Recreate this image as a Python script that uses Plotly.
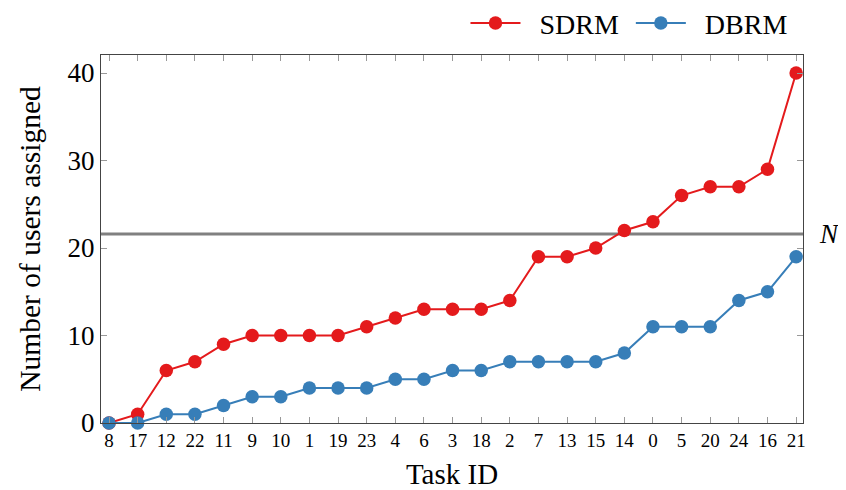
import plotly.graph_objects as go

task_ids = ["8", "17", "12", "22", "11", "9", "10", "1", "19", "23", "4", "6", "3",
            "18", "2", "7", "13", "15", "14", "0", "5", "20", "24", "16", "21"]
sdrm = [0, 1, 6, 7, 9, 10, 10, 10, 10, 11, 12, 13, 13, 13, 14, 19, 19, 20, 22, 23, 26, 27, 27, 29, 40]
dbrm = [0, 0, 1, 1, 2, 3, 3, 4, 4, 4, 5, 5, 6, 6, 7, 7, 7, 7, 8, 11, 11, 11, 14, 15, 19]
n_value = 21.6

RED = "#e41a1c"
BLUE = "#377eb8"
FONT = "Liberation Serif, Times New Roman, serif"
NB = "\u00a0"

fig = go.Figure()
fig.add_trace(go.Scatter(
    x=task_ids, y=sdrm, name=NB * 2 + "SDRM" + NB, mode="lines+markers",
    line=dict(color=RED, width=2), marker=dict(color=RED, size=13.5),
    cliponaxis=False,
))
fig.add_trace(go.Scatter(
    x=task_ids, y=dbrm, name=NB * 2 + "DBRM", mode="lines+markers",
    line=dict(color=BLUE, width=2), marker=dict(color=BLUE, size=13.5),
    cliponaxis=False,
))
fig.add_shape(type="line", xref="paper", x0=0, x1=1, yref="y", y0=n_value, y1=n_value,
              line=dict(color="#808080", width=3), layer="below")
fig.add_annotation(xref="paper", x=1, xanchor="left", xshift=14, yref="y", y=n_value,
                   text="<i>N</i>", showarrow=False,
                   font=dict(family=FONT, size=27, color="black"))

fig.update_layout(
    width=838, height=482,
    margin=dict(l=93, r=43, t=47, b=67, autoexpand=False),
    plot_bgcolor="white", paper_bgcolor="white",
    font=dict(family=FONT, color="black"),
    showlegend=True,
    legend=dict(orientation="h", x=0.985, xanchor="right", y=1.018, yanchor="bottom",
                yref="paper", font=dict(family=FONT, size=28),
                bgcolor="rgba(0,0,0,0)", itemwidth=50, tracegroupgap=0),
    xaxis=dict(
        type="category", range=[-0.28, 24.24],
        showline=True, linecolor="#444", linewidth=1.2, mirror="ticks",
        ticks="inside", ticklen=6, tickcolor="#999", tickwidth=1,
        showgrid=False, zeroline=False,
        tickfont=dict(family=FONT, size=19),
        title=dict(text="Task ID", font=dict(family=FONT, size=29), standoff=13),
    ),
    yaxis=dict(
        range=[0, 42.06], tickvals=[0, 10, 20, 30, 40],
        showline=True, linecolor="#444", linewidth=1.2, mirror="ticks",
        ticks="inside", ticklen=6, tickcolor="#999", tickwidth=1,
        showgrid=False, zeroline=False,
        tickfont=dict(family=FONT, size=27),
        title=dict(text="Number of users assigned", font=dict(family=FONT, size=29.5), standoff=18),
    ),
)

fig.write_html("out.html")
